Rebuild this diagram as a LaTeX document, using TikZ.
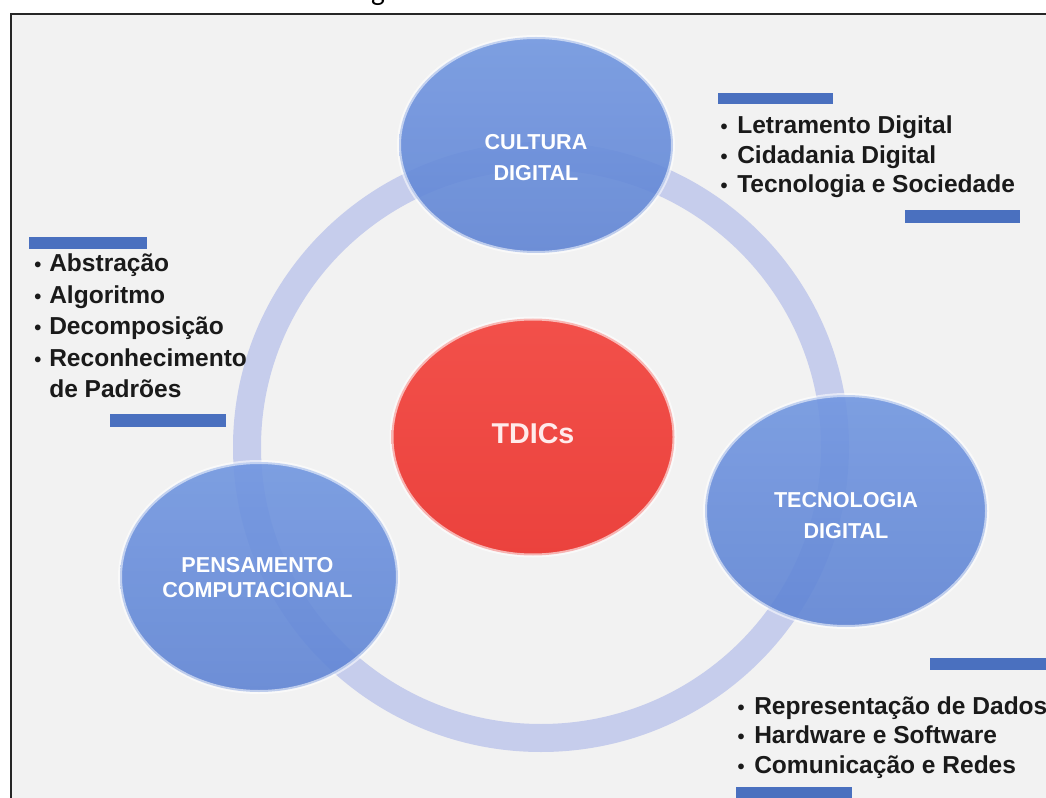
\documentclass[tikz,border=0pt]{standalone}
\usepackage{fontspec}
\setmainfont{Liberation Sans}
\newfontfamily\capfont{Carlito}
\usetikzlibrary{shapes.geometric}

\definecolor{pagebg}{HTML}{F2F2F2}
\definecolor{ringc}{HTML}{C6CDEC}
\definecolor{blueTop}{HTML}{7196E0}
\definecolor{blueBot}{HTML}{5F84D4}
\definecolor{redTop}{HTML}{F2504A}
\definecolor{redBot}{HTML}{EB423D}
\definecolor{barc}{HTML}{4A70BF}
\definecolor{listtext}{HTML}{1A1A1A}

\begin{document}
\begin{tikzpicture}[x=0.75pt,y=-0.75pt,
  bubble/.style={ellipse, inner sep=0pt, top color=blueTop, bottom color=blueBot,
    opacity=0.9, draw=white, draw opacity=0.55, line width=3pt},
  core/.style={ellipse, inner sep=0pt, top color=redTop, bottom color=redBot,
    draw=white, draw opacity=0.6, line width=3pt},
  bubbletext/.style={anchor=base, inner sep=0pt, text=white,
    font=\bfseries\fontsize{16.2}{19}\selectfont},
  item/.style={anchor=base west, inner sep=0pt, text=listtext,
    font=\bfseries\fontsize{18.4}{22}\selectfont},
  dot/.style={anchor=base, inner sep=0pt, text=listtext,
    font=\bfseries\fontsize{15}{18}\selectfont},
  bar/.style={fill=barc}]

\useasboundingbox (0,0) rectangle (1046,798);
\clip (0,0) rectangle (1046,798);

% page, panel and frame
\fill[white] (0,0) rectangle (1046,798);
\fill[pagebg] (11,14) rectangle (1046,798);
\draw[black!85, line width=1.7pt] (11,798) -- (11,14) -- (1046,14);

% caption fragment above the frame
\node[anchor=base, inner sep=0pt, font=\capfont\fontsize{22}{26}\selectfont] (cap) at (378,1) {g};

% ring joining the three areas
\draw[ringc, line width=21pt] (541,447) ellipse [x radius=294, y radius=291];

% the three areas
\node[bubble, minimum width=205.5pt, minimum height=162pt] (cult) at (536,145) {};
\node[bubble, minimum width=208.5pt, minimum height=172.5pt] (pens) at (259,577) {};
\node[bubble, minimum width=211.5pt, minimum height=174pt] (tecn) at (846,511) {};

% centre
\node[core, minimum width=212.25pt, minimum height=177.75pt] (tdic) at (533,437) {};
\node[anchor=base, inner sep=0pt, text=red!8!white,
  font=\bfseries\fontsize{21.5}{25}\selectfont] (tdict) at (533,444) {TDICs};

% labels of the areas
\node[bubbletext] (cult1) at (536,149.3) {CULTURA};
\node[bubbletext] (cult2) at (536,180.7) {DIGITAL};
\node[bubbletext] (pens1) at (257.5,572.7) {PENSAMENTO};
\node[bubbletext] (pens2) at (257.5,597.3) {COMPUTACIONAL};
\node[bubbletext] (tecn1) at (846,507.7) {TECNOLOGIA};
\node[bubbletext] (tecn2) at (846,538.3) {DIGITAL};

% accent bars
\fill[bar] (718,93) rectangle (833,104);
\fill[bar] (905,210) rectangle (1020,223);
\fill[bar] (29,237) rectangle (147,249);
\fill[bar] (110,414) rectangle (226,427);
\fill[bar] (930,658) rectangle (1050,670);
\fill[bar] (736,787) rectangle (852,800);

% topic lists
\foreach \txt/\yy [count=\i] in {Letramento Digital/134, Cidadania Digital/163.5,
    Tecnologia e Sociedade/193}{
  \node[dot] (ca\i) at (724,\yy) {\textbullet};
  \node[item] (cb\i) at (737,\yy) {\txt};
}
\foreach \txt/\yy [count=\i] in {Abstração/272, Algoritmo/303.5,
    Decomposição/335, Reconhecimento/366.5}{
  \node[dot] (pa\i) at (38,\yy) {\textbullet};
  \node[item] (pb\i) at (49,\yy) {\txt};
}
\node[item] (pb5) at (49,398) {de Padrões};
\foreach \txt/\yy [count=\i] in {Representação de Dados/714,
    Hardware e Software/743.5, Comunicação e Redes/773}{
  \node[dot] (ta\i) at (741,\yy) {\textbullet};
  \node[item] (tb\i) at (754,\yy) {\txt};
}
\end{tikzpicture}
\end{document}
